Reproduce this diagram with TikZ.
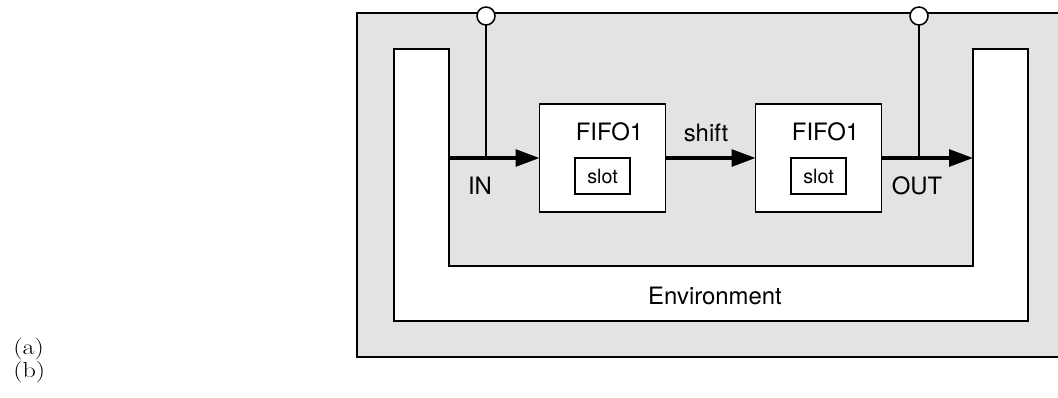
\documentclass[tikz,border=0pt]{standalone}
\usepackage{fontspec}
\setsansfont{TeX Gyre Heros}
\usetikzlibrary{positioning, arrows.meta, calc}
\definecolor{envgray}{RGB}{227,227,227}
\tikzset{
  outerbox/.style={
    draw=black,
    fill=envgray,
    line width=1.3pt
  },
  envshape/.style={
    draw=black,
    fill=white,
    line width=1.3pt
  },
  fifobox/.style={
    rectangle,
    draw=black,
    fill=white,
    line width=1.3pt,
    minimum width=3.15cm,
    minimum height=2.7cm,
    inner sep=0pt,
    outer sep=0pt
  },
  slotbox/.style={
    rectangle,
    draw=black,
    fill=white,
    line width=1.1pt,
    minimum width=1.375cm,
    minimum height=0.9cm,
    font=\sffamily\fontsize{14}{16}\selectfont,
    inner sep=0pt,
    outer sep=0pt
  },
  portcircle/.style={
    circle,
    draw=black,
    fill=white,
    line width=1.1pt,
    minimum size=0.45cm,
    inner sep=0pt,
    outer sep=0pt
  },
  tapline/.style={
    line width=1.1pt
  },
  flowarrow/.style={
    -{Triangle[length=17pt, width=12pt]},
    line width=2.2pt
  },
  textlabel/.style={
    font=\sffamily\fontsize{17}{20}\selectfont,
    inner sep=0pt
  },
  caption/.style={
    anchor=west,
    font=\fontsize{15.5}{17}\selectfont,
    inner sep=0pt
  }
}
\newcommand{\widecap}[1]{\scalebox{1.2}[1]{#1}}
\begin{document}
\begin{tikzpicture}[x=0.025cm, y=-0.025cm]
  \useasboundingbox (0,0) rectangle (1058,397);

  \draw[outerbox] (357,13) rectangle (1062,357);
  \draw[envshape] (394,49) -- (449,49) -- (449,266) -- (973,266)
    -- (973,49) -- (1028,49) -- (1028,321) -- (394,321) -- cycle;
  \node[textlabel] (env) at (715,296) {Environment};

  \node[fifobox] (fifoA) at (602.5,158) {};
  \node[fifobox, right=2.25cm of fifoA] (fifoB) {};
  \node[slotbox] (slotA) at ($(fifoA.center)+(0,18)$) {slot};
  \node[slotbox] (slotB) at ($(fifoB.center)+(0,18)$) {slot};
  \node[textlabel] (nameA) at ($(fifoA.center)+(7,-26)$) {FIFO1};
  \node[textlabel] (nameB) at ($(fifoB.center)+(7,-26)$) {FIFO1};

  \coordinate (inport) at (449,158);
  \coordinate (outport) at (973,158);
  \node[portcircle] (tapIn) at (486,16) {};
  \node[portcircle] (tapOut) at (919,16) {};

  \draw[flowarrow] (inport) -- (fifoA.west);
  \draw[flowarrow] (fifoA.east) -- (fifoB.west);
  \draw[flowarrow] (fifoB.east) -- (outport);
  \draw[tapline] (tapIn.south) -- (tapIn |- inport);
  \draw[tapline] (tapOut.south) -- (tapOut |- outport);

  \node[textlabel] (inlabel) at (480,186) {IN};
  \node[textlabel] (shiftlabel) at (706,133) {shift};
  \node[textlabel] (outlabel) at (917,186) {OUT};

  \node[caption] (capA) at (13,349.5) {\widecap{(a)}};
  \node[caption] (capB) at (13,372.5) {\widecap{(b)}};
\end{tikzpicture}
\end{document}
